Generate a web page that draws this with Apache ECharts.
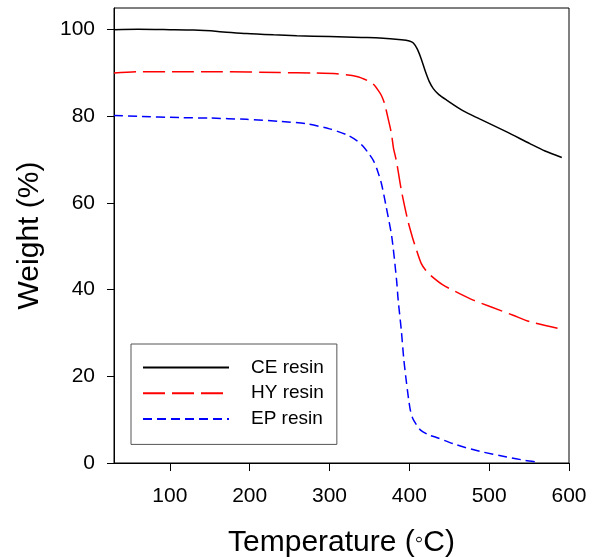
<!DOCTYPE html>
<html>
<head>
<meta charset="utf-8">
<script src="https://cdn.jsdelivr.net/npm/echarts@6/dist/echarts.min.js"></script>
<style>
  html, body { margin: 0; padding: 0; background: #fff; }
  #chart { width: 597px; height: 557px; }
</style>
</head>
<body>
<div id="chart"></div>
<script>
// 热重曲线 (TGA)
var xTicks = [100, 200, 300, 400, 500, 600];
var yTicks = [0, 20, 40, 60, 80, 100];

var ceResin = [
    [30, 100.0], [60, 100.1], [100, 100.0], [130, 99.9], [160, 99.6], [196, 99.1],
    [230, 98.8], [259, 98.6], [300, 98.4], [340, 98.2], [363, 98.1], [390, 97.7],
    [400, 97.4], [405, 96.9], [410, 95.5], [415, 93.2], [420, 90.4], [425, 88.0],
    [430, 86.4], [437, 85.0], [447, 83.7], [467, 81.3], [488, 79.4], [522, 76.4],
    [551, 73.7], [570, 72.0], [591, 70.5]
];
var hyResin = [
    [30, 90.0], [60, 90.3], [112, 90.3], [160, 90.3], [238, 90.1], [280, 90.0],
    [309, 89.8], [334, 89.2], [347, 88.3], [355, 87.4], [361, 86.0], [365, 84.8],
    [369, 82.9], [373, 79.8], [377.6, 76.0], [380, 72.8], [384, 69.5], [390, 62.9],
    [398, 56.0], [404, 52.0], [409, 49.1], [415, 46.0], [420, 44.6], [426, 43.4],
    [442, 41.1], [463, 39.1], [480, 37.6], [501, 36.1], [530, 34.1], [551, 32.6],
    [591, 30.9]
];
var epResin = [
    [30, 80.2], [60, 80.0], [112, 79.7], [150, 79.6], [196, 79.3], [240, 78.8],
    [271, 78.3], [300, 77.1], [321, 75.8], [335, 74.3], [342, 73.1], [348, 71.7],
    [355, 69.8], [360, 67.5], [365, 64.5], [371, 59.1], [378, 52.2], [384, 42.2],
    [386, 37.6], [390, 30.5], [393, 24.0], [396.5, 18.4], [400.8, 12.6], [404, 10.4],
    [409, 8.8], [414, 7.6], [424, 6.5], [434, 5.9], [459, 4.2], [488, 2.7],
    [522, 1.4], [545, 0.6], [561, 0.2]
];
var seriesNames = ['CE resin', 'HY resin', 'EP resin'];

var myChart = echarts.init(document.getElementById('chart'));
var font = 'Liberation Sans, Arial, sans-serif';

function lineSeries(name, data, color, dash) {
    return {
        name: name, type: 'line', data: data,
        symbol: 'none', showSymbol: false,
        smooth: 0.25,
        itemStyle: { color: color },
        lineStyle: { color: color, width: 1.5, type: dash }
    };
}

var option = {
    backgroundColor: '#fff',
    animation: false,
    grid: {
        left: 114, right: 28, top: 8, bottom: 94,
        outerBoundsMode: 'none',
        containLabel: false,
        show: true, borderColor: '#000', borderWidth: 1
    },
    legend: {
        data: seriesNames,
        orient: 'vertical',
        left: 131,
        top: 344,
        padding: [14, 13, 16, 11],
        itemWidth: 86,
        itemHeight: 20,
        itemGap: 6.7,
        borderColor: '#555',
        borderWidth: 1,
        itemStyle: { opacity: 0, borderWidth: 0 },
        textStyle: {
            fontFamily: font,
            fontSize: 19,
            color: '#000',
            padding: [0, 0, 0, 17]
        }
    },
    xAxis: {
        type: 'value',
        min: 30,
        max: 600,
        name: 'Temperature ({d|◦}C)',
        nameLocation: 'middle',
        nameGap: 65,
        nameTextStyle: {
            fontFamily: font, fontSize: 30, color: '#000',
            rich: { d: { fontFamily: font, fontSize: 24, color: '#000', verticalAlign: 'top' } }
        },
        axisLine: { lineStyle: { color: '#000', width: 1 } },
        axisTick: { length: 8, lineStyle: { color: '#000' }, customValues: xTicks },
        axisLabel: { fontFamily: font, fontSize: 21, color: '#000', margin: 23, customValues: xTicks },
        splitLine: { show: false }
    },
    yAxis: {
        type: 'value',
        min: 0,
        max: 105,
        name: 'Weight (%)',
        nameLocation: 'middle',
        nameGap: 69,
        nameTextStyle: { fontFamily: font, fontSize: 30, color: '#000' },
        axisLine: { show: true, lineStyle: { color: '#000', width: 1 } },
        axisTick: { show: true, length: 7, lineStyle: { color: '#000' }, customValues: yTicks },
        axisLabel: { fontFamily: font, fontSize: 21, color: '#000', margin: 19, customValues: yTicks },
        splitLine: { show: false }
    },
    series: [
        lineSeries(seriesNames[0], ceResin, '#000000', 'solid'),
        lineSeries(seriesNames[1], hyResin, '#ff0000', [22, 7]),
        lineSeries(seriesNames[2], epResin, '#0000ff', [9, 5])
    ]
};
myChart.setOption(option);
window.onresize = myChart.resize;
</script>
</body>
</html>
